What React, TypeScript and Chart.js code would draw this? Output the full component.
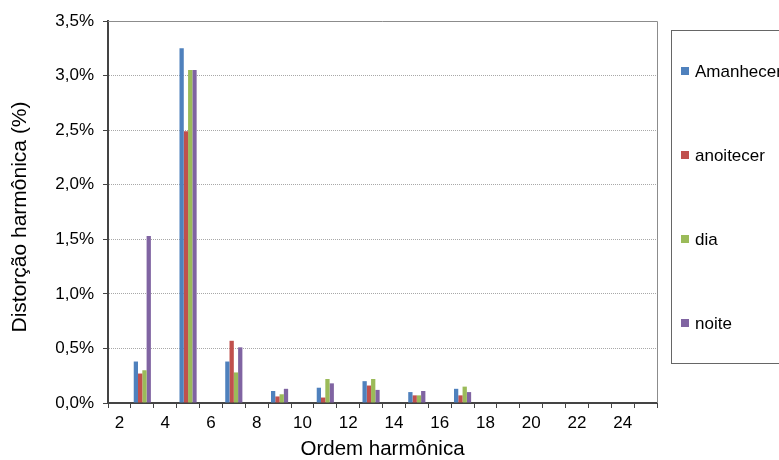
import React, { useEffect, useRef } from "react";
import { Chart, registerables } from "chart.js";

Chart.register(...registerables);

// Harmonic orders on the x axis (2..25)
const orders = [
  "2", "3", "4", "5", "6", "7", "8", "9", "10", "11", "12", "13",
  "14", "15", "16", "17", "18", "19", "20", "21", "22", "23", "24", "25",
];

// Harmonic distortion per period of day, in percent (odd orders 3..17)
const amanhecer = [null, 0.38, null, 3.25, null, 0.38, null, 0.11, null, 0.14, null, 0.2, null, 0.1, null, 0.13, null, null, null, null, null, null, null, null];
const anoitecer = [null, 0.27, null, 2.49, null, 0.57, null, 0.06, null, 0.05, null, 0.16, null, 0.07, null, 0.07, null, null, null, null, null, null, null, null];
const dia = [null, 0.3, null, 3.05, null, 0.28, null, 0.08, null, 0.22, null, 0.22, null, 0.07, null, 0.15, null, null, null, null, null, null, null, null];
const noite = [null, 1.53, null, 3.05, null, 0.51, null, 0.13, null, 0.18, null, 0.12, null, 0.11, null, 0.1, null, null, null, null, null, null, null, null];

const seriesNames = ["Amanhecer", "anoitecer", "dia", "noite"];
const seriesColors = ["#4F81BD", "#C0504D", "#9BBB59", "#8064A2"];

const yTitle = "Distorção harmônica (%)";
const xTitle = "Ordem harmônica";

const FONT = "'Liberation Sans', Arial, sans-serif";

// Plot frame (top/right), vertical axis title and the boxed legend on the right
const framePlugin = {
  id: "frameAndLegend",
  afterDraw(chart: any) {
    const { ctx, chartArea } = chart;
    ctx.save();
    ctx.strokeStyle = "#8c8c8c";
    ctx.lineWidth = 1;
    ctx.beginPath();
    ctx.moveTo(chartArea.left, chartArea.top + 0.5);
    ctx.lineTo(chartArea.right + 0.5, chartArea.top + 0.5);
    ctx.lineTo(chartArea.right + 0.5, chartArea.bottom);
    ctx.stroke();

    // vertical axis title
    ctx.save();
    ctx.translate(20, (chartArea.top + chartArea.bottom) / 2 + 5);
    ctx.rotate(-Math.PI / 2);
    ctx.font = `21px ${FONT}`;
    ctx.fillStyle = "#000000";
    ctx.textAlign = "center";
    ctx.textBaseline = "middle";
    ctx.fillText(yTitle, 0, 0);
    ctx.restore();

    // legend box
    const bx = 671.5, by = 30.5, bw = 140, bh = 333;
    ctx.strokeStyle = "#666666";
    ctx.strokeRect(bx, by, bw, bh);
    ctx.font = `17px ${FONT}`;
    ctx.textBaseline = "middle";
    ctx.textAlign = "left";
    chart.data.datasets.forEach((ds: any, i: number) => {
      const cy = 71 + i * 84;
      ctx.fillStyle = ds.backgroundColor;
      ctx.fillRect(681, cy - 4, 8, 8);
      ctx.fillStyle = "#000000";
      ctx.fillText(ds.label, 695, cy + 1);
    });
    ctx.restore();
  },
};

export default function App() {
  const ref = useRef<HTMLCanvasElement>(null);

  useEffect(() => {
    if (!ref.current) return;
    const seriesData = [amanhecer, anoitecer, dia, noite];
    const chart = new Chart(ref.current, {
      type: "bar",
      data: {
        labels: orders,
        datasets: seriesData.map((d, i) => ({
          label: seriesNames[i],
          data: d,
          backgroundColor: seriesColors[i],
          borderWidth: 0,
          categoryPercentage: 0.75,
          barPercentage: 1,
        })),
      },
      options: {
        animation: false,
        responsive: false,
        maintainAspectRatio: false,
        layout: { padding: { left: 0, top: 21, right: 122, bottom: 0 } },
        plugins: {
          legend: { display: false },
          tooltip: { enabled: false },
        },
        scales: {
          x: {
            afterFit: (s: any) => { s.height = 57; },
            grid: {
              offset: true,
              drawOnChartArea: false,
              drawTicks: true,
              tickLength: 5,
              tickColor: "#444444",
              tickWidth: 1,
            },
            border: { display: true, color: "#444444", width: 2 },
            ticks: {
              autoSkip: false,
              maxRotation: 0,
              color: "#000000",
              font: { family: FONT, size: 17 },
              padding: 5,
              callback: (_v: any, i: number) => (i % 2 === 0 ? orders[i] : ""),
            },
            title: {
              display: true,
              text: xTitle,
              color: "#000000",
              font: { family: FONT, size: 20.5 },
              padding: { top: 0, bottom: -2 },
            },
          },
          y: {
            min: 0,
            max: 3.5,
            afterFit: (s: any) => { s.width = 108; },
            ticks: {
              stepSize: 0.5,
              color: "#000000",
              font: { family: FONT, size: 17 },
              padding: 9,
              callback: (v: any) => Number(v).toFixed(1).replace(".", ",") + "%",
            },
            grid: {
              color: "#a8a8a8",
              lineWidth: 1,
              tickColor: "#444444",
              tickLength: 5,
              tickBorderDash: [],
            },
            border: { display: true, color: "#444444", width: 2, dash: [1, 1] },
          },
        },
      },
      plugins: [framePlugin],
    });
    return () => chart.destroy();
  }, []);

  return (
    <div style={{ position: "fixed", left: 0, top: 0, width: 779, height: 460, background: "#ffffff" }}>
      <canvas ref={ref} width={779} height={460} style={{ display: "block" }} />
    </div>
  );
}
